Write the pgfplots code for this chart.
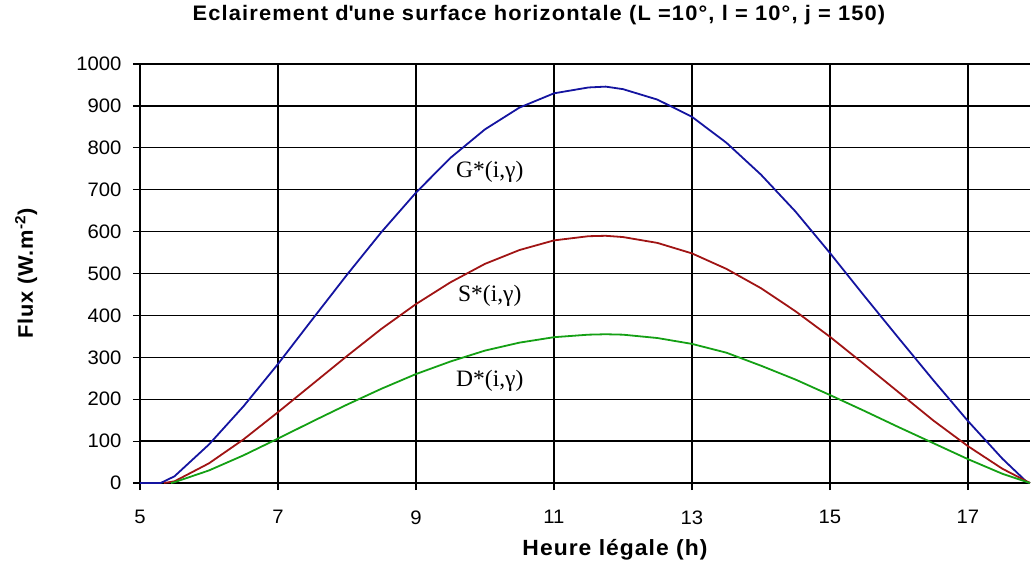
\documentclass[border=0pt]{standalone}
\usepackage{fontspec}
\setmainfont{Liberation Sans}[FakeStretch=1.04]
\newfontfamily\serifl{Liberation Serif}
\usepackage{pgfplots}
\pgfplotsset{compat=1.18}
\definecolor{gline}{RGB}{20,20,160}
\definecolor{sline}{RGB}{160,20,20}
\definecolor{dline}{RGB}{20,160,20}
\begin{document}
\begin{tikzpicture}
\begin{axis}[
  scale only axis, width=890pt, height=419pt,
  xmin=5, xmax=17.9, ymin=0, ymax=1000,
  xtick={5,7,...,17}, ytick={0,100,...,1000},
  grid=major, grid style={black, line width=1.3pt},
  axis lines=left, axis line style={-, black, line width=1.5pt},
  tick align=outside, major tick length=7pt, tick style={black, line width=1.2pt},
  tick label style={font=\fontsize{19.5}{23}\selectfont},
  xticklabel style={yshift=-17pt},
  yticklabel style={xshift=-8pt},
  /pgf/number format/assume math mode=true,
  /pgf/number format/1000 sep={},
  xlabel={Heure légale (h)}, ylabel={Flux (W.m\textsuperscript{-2})},
  xlabel style={font=\fontsize{22}{26}\selectfont\bfseries\addfontfeatures{LetterSpace=4.7},
    at={(axis description cs:0.5337,-0.16)}, anchor=center},
  ylabel style={font=\fontsize{21}{25}\selectfont\bfseries\addfontfeatures{LetterSpace=4},
    at={(axis description cs:-0.128,0.5)}, anchor=center},
  title={Eclairement d\textquotesingle une surface horizontale (L =10°, l = 10°, j = 150)},
  title style={font=\fontsize{21}{25}\selectfont\bfseries\addfontfeatures{LetterSpace=5.5},
    at={(axis description cs:0.4483,1.1026)}, anchor=center},
  clip=false,
]
\addplot[gline, line width=1.8pt] coordinates {(5,0)(5.3,0)(5.5,16)(6,92)(6.5,183)(7,284)(7.5,391)(8,497)(8.5,599)(9,693)(9.5,776)(10,844)(10.5,896)(11,930)(11.5,944)(11.75,946)(12,940)(12.5,915)(13,874)(13.5,812)(14,736)(14.5,648)(15,549)(15.5,446)(16,345)(16.5,245)(17,148)(17.5,58)(17.85,3)(17.9,0)};
\addplot[sline, line width=1.8pt] coordinates {(5.35,0)(5.5,4)(6,47)(6.5,104)(7,169)(7.5,236)(8,303)(8.5,368)(9,427)(9.5,479)(10,523)(10.5,556)(11,579)(11.5,589)(11.75,590)(12,587)(12.5,573)(13,548)(13.5,511)(14,465)(14.5,410)(15,349)(15.5,283)(16,216)(16.5,149)(17,88)(17.5,34)(17.9,0)};
\addplot[dline, line width=1.8pt] coordinates {(5.45,0)(5.5,2)(6,30)(6.5,66)(7,106)(7.5,147)(8,187)(8.5,225)(9,260)(9.5,290)(10,316)(10.5,335)(11,348)(11.5,354)(11.75,355)(12,354)(12.5,346)(13,332)(13.5,311)(14,280)(14.5,247)(15,210)(15.5,172)(16,133)(16.5,95)(17,57)(17.5,22)(17.9,0)};
\node[font=\serifl\fontsize{23.5}{27}\selectfont] at (axis cs:10.07,742) {G*(i,γ)};
\node[font=\serifl\fontsize{23.5}{27}\selectfont] at (axis cs:10.07,446) {S*(i,γ)};
\node[font=\serifl\fontsize{23.5}{27}\selectfont] at (axis cs:10.07,243) {D*(i,γ)};
\end{axis}
\pgfresetboundingbox
\path (current axis.south west) ++(-140pt,-80pt) rectangle ++(1031pt,563pt);
\end{tikzpicture}
\end{document}
